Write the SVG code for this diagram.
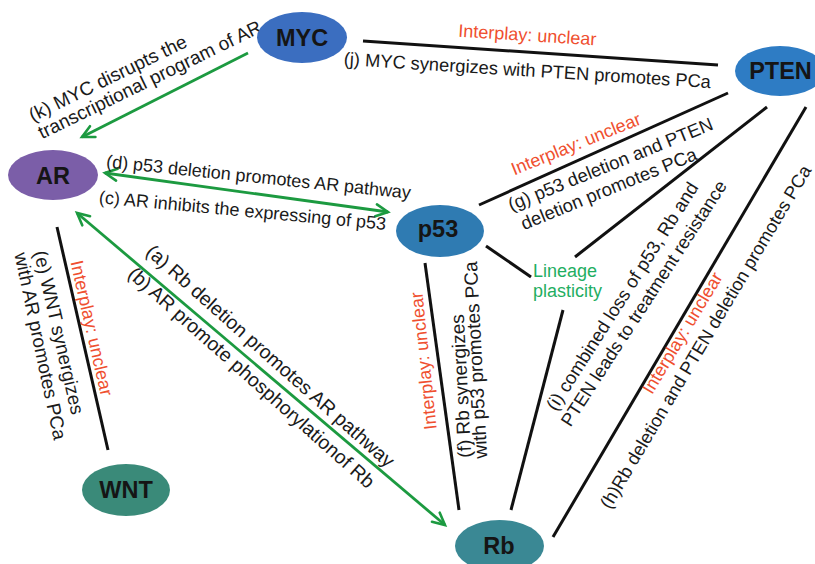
<svg xmlns="http://www.w3.org/2000/svg" width="815" height="564" viewBox="0 0 815 564">
<defs>
<marker id="arr" markerUnits="userSpaceOnUse" markerWidth="18" markerHeight="18" viewBox="0 0 18 18" refX="15" refY="9" orient="auto-start-reverse">
<path d="M3,3 L15,9 L3,15" fill="none" stroke="#1c9a40" stroke-width="2.6" stroke-linecap="round" stroke-linejoin="miter"/>
</marker>
</defs>
<style>
.blk{stroke:#111;stroke-width:3;fill:none;stroke-linecap:butt}
.grn{stroke:#1c9a40;stroke-width:2.8;fill:none}
.nt{font-family:"Liberation Sans",Arial,sans-serif;font-weight:bold;font-size:23.5px;fill:#151515;text-anchor:middle}
.lb{font-family:"Liberation Sans",Arial,sans-serif;font-size:18.5px;fill:#1a1a1a;text-anchor:middle}
.rd{font-family:"Liberation Sans",Arial,sans-serif;font-size:18px;fill:#ef4f2f;text-anchor:middle}
.gt{font-family:"Liberation Sans",Arial,sans-serif;font-size:18px;fill:#1fae62}
</style>
<rect width="815" height="564" fill="#fff"/>
<g id="connectors">
<line class="blk" x1="363" y1="41" x2="718" y2="65"/>
<line class="grn" x1="248" y1="53" x2="82" y2="137" marker-end="url(#arr)"/>
<line class="grn" x1="105" y1="173" x2="388" y2="212" marker-start="url(#arr)" marker-end="url(#arr)"/>
<line class="grn" x1="77" y1="213" x2="445" y2="525" marker-start="url(#arr)" marker-end="url(#arr)"/>
<line class="blk" x1="57" y1="227" x2="108" y2="450"/>
<line class="blk" x1="425" y1="263" x2="459" y2="510"/>
<line class="blk" x1="479" y1="205" x2="728" y2="93"/>
<line class="blk" x1="486" y1="246" x2="531" y2="277"/>
<line class="blk" x1="575" y1="257" x2="767" y2="107"/>
<line class="blk" x1="563" y1="310" x2="511" y2="510"/>
<line class="blk" x1="553" y1="537" x2="806" y2="107"/>
</g>
<g id="labels">
<text class="rd" transform="translate(527,41) rotate(3.6)">Interplay: unclear</text>
<text class="lb" style="font-size:18.3px" transform="translate(527,76.5) rotate(3.6)">(j) MYC synergizes with PTEN promotes PCa</text>
<text class="lb" style="font-size:19px" transform="translate(110.6,84) rotate(-26)">(k) MYC disrupts the</text>
<text class="lb" style="font-size:19px" transform="translate(152.6,85.4) rotate(-26)">transcriptional program of AR</text>
<text class="lb" style="font-size:18px" transform="translate(258,183) rotate(5.9)">(d) p53 deletion promotes AR pathway</text>
<text class="lb" style="font-size:18px" transform="translate(242,216.5) rotate(5.3)">(c) AR inhibits the expressing of p53</text>
<text class="lb" style="font-size:19.5px" transform="translate(266,361) rotate(41.6)">(a) Rb deletion promotes AR pathway</text>
<text class="lb" style="font-size:19.5px" transform="translate(247,382.5) rotate(41.6)">(b) AR promote phosphorylationof Rb</text>
<text class="rd" transform="translate(85.7,329.4) rotate(77.2)">Interplay: unclear</text>
<text class="lb" style="font-size:19px" transform="translate(52.7,333.9) rotate(77)">(e) WNT synergizes</text>
<text class="lb" style="font-size:19px" transform="translate(34.2,347.4) rotate(78)">with AR promotes PCa</text>
<text class="rd" transform="translate(429.5,360.3) rotate(-96)">Interplay: unclear</text>
<text class="lb" style="font-size:19px" transform="translate(467.5,385.7) rotate(-93)">(f) Rb synergizes</text>
<text class="lb" style="font-size:19px" transform="translate(482,359.7) rotate(-93)">with p53 promotes PCa</text>
<text class="rd" transform="translate(578.2,149.6) rotate(-22)">Interplay: unclear</text>
<text class="lb" transform="translate(612.8,170.1) rotate(-22)">(g) p53 deletion and PTEN</text>
<text class="lb" transform="translate(611.2,194.6) rotate(-22.2)">deletion promotes PCa</text>
<text class="lb" transform="translate(627.6,299.7) rotate(-57.5)">(i) combined loss of p53, Rb and</text>
<text class="lb" style="font-size:18.3px" transform="translate(649,306.7) rotate(-57)">PTEN leads to treatment resistance</text>
<text class="rd" transform="translate(687.6,336.1) rotate(-59)">Interplay: unclear</text>
<text class="lb" style="font-size:18.3px" transform="translate(711,340) rotate(-59.3)">(h)Rb deletion and PTEN deletion promotes PCa</text>
</g>
<g id="node-MYC"><ellipse cx="302" cy="37.5" rx="45" ry="25.5" fill="#3b6ec0"/><text class="nt" x="302" y="46">MYC</text></g>
<g id="node-PTEN"><ellipse cx="780" cy="71" rx="45" ry="25" fill="#2e7cc4"/><text class="nt" x="780.5" y="79">PTEN</text></g>
<g id="node-AR"><ellipse cx="53" cy="175" rx="45" ry="25" fill="#7b5ea8"/><text class="nt" x="53" y="184">AR</text></g>
<g id="node-p53"><ellipse cx="440" cy="231" rx="44" ry="26" fill="#2f7bb2"/><text class="nt" x="438" y="237">p53</text></g>
<g id="node-WNT"><ellipse cx="126" cy="490" rx="44" ry="26" fill="#3a8a79"/><text class="nt" x="126" y="498">WNT</text></g>
<g id="node-Rb"><ellipse cx="499.5" cy="546" rx="44.5" ry="26" fill="#3a8894"/><text class="nt" x="499" y="554">Rb</text></g>
<g id="node-Lineage"><text class="gt" x="533" y="277">Lineage</text><text class="gt" x="533" y="297">plasticity</text></g>
</svg>
